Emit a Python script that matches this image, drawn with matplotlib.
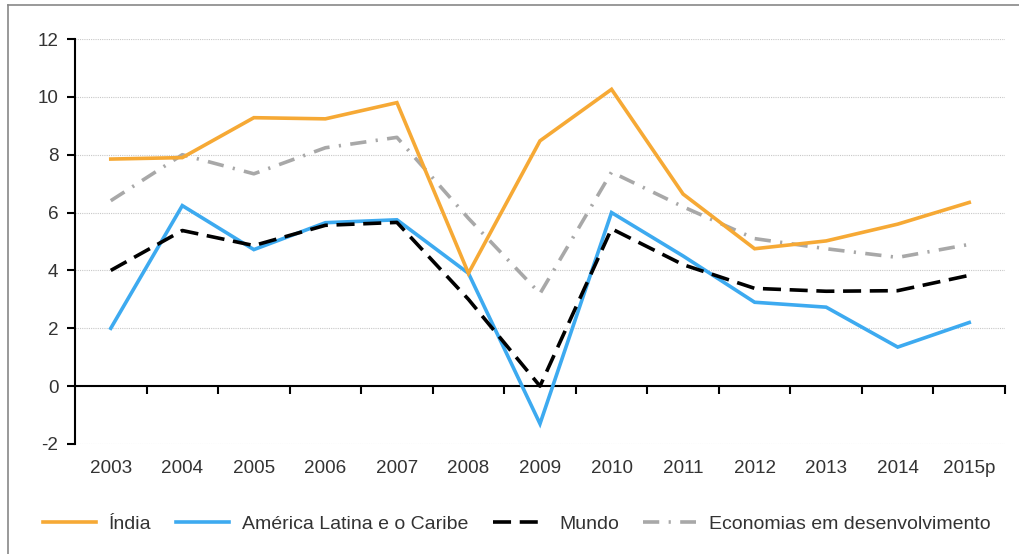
import matplotlib as mpl
from matplotlib import pyplot as plt
from matplotlib.lines import Line2D

mpl.rcParams['font.family'] = ['Liberation Sans', 'DejaVu Sans']
mpl.rcParams['axes.unicode_minus'] = False

## data
anos = ['2003', '2004', '2005', '2006', '2007', '2008', '2009',
        '2010', '2011', '2012', '2013', '2014', '2015p']
india = [7.85, 7.9, 9.28, 9.24, 9.8, 3.9, 8.48, 10.26, 6.64, 4.75, 5.02, 5.6, 6.35]
america_latina = [2.0, 6.24, 4.72, 5.65, 5.75, 3.9, -1.3, 6.0, 4.5, 2.9, 2.73, 1.35, 2.2]
mundo = [4.0, 5.38, 4.86, 5.56, 5.66, 3.0, 0.0, 5.44, 4.2, 3.38, 3.28, 3.3, 3.83]
economias = [6.41, 8.0, 7.34, 8.24, 8.6, 5.8, 3.2, 7.4, 6.2, 5.1, 4.75, 4.45, 4.9]

nomes = ['Índia', 'América Latina e o Caribe', 'Mundo',
         'Economias em desenvolvimento']

LW = 2.6
FS = 13.6
cor_texto = '#333333'
estilo_mundo = dict(color='black', lw=LW, dashes=(5, 2.4))
estilo_econ = dict(color='#A8A8A8', lw=LW, dashes=(4.5, 2.6, 0.6, 2.6))

fig = plt.figure(figsize=(10.2, 5.54), dpi=100)
ax = fig.add_axes([75/1020, 1 - 444/554, 930/1020, 405/554])

x = list(range(len(anos)))
ax.plot(x, india, color='#F6A935', lw=LW, solid_joinstyle='miter', zorder=4)
ax.plot(x, america_latina, color='#3DAAF0', lw=LW, solid_joinstyle='miter', zorder=3)
ax.plot(x, mundo, zorder=5, **estilo_mundo)
ax.plot(x, economias, zorder=2, **estilo_econ)

ax.set_xlim(-0.5, len(anos) - 0.5)
ax.set_ylim(-2, 12)
ax.set_yticks(range(-2, 13, 2))
ax.yaxis.grid(True, linestyle=(0, (1, 1)), color='#C8C8C8', lw=0.8)
ax.set_axisbelow(True)

# x axis sits at zero, ticks between categories
ax.spines['top'].set_visible(False)
ax.spines['right'].set_visible(False)
ax.spines['bottom'].set_position(('data', 0))
ax.spines['bottom'].set_linewidth(1.5)
ax.spines['left'].set_linewidth(1.5)
ax.set_xticks([i + 0.5 for i in x[:-1]] + [len(anos) - 0.5])
ax.set_xticklabels([])
ax.tick_params(axis='x', direction='out', length=6, width=1.5)
ax.tick_params(axis='y', direction='out', length=6, width=1.5, labelsize=FS,
               colors='black', labelcolor=cor_texto, pad=6)
for i, a in enumerate(anos):
    ax.text(i, -2.85, a, ha='center', va='center', fontsize=FS, color=cor_texto)

# legend
handles = [
    Line2D([], [], color='#F6A935', lw=LW),
    Line2D([], [], color='#3DAAF0', lw=LW),
    Line2D([], [], **estilo_mundo),
    Line2D([], [], **estilo_econ),
]
fig.legend(handles, nomes, loc='center', bbox_to_anchor=(517/1020, 1 - 524/554),
           ncol=4, frameon=False, fontsize=14, handlelength=2.7,
           columnspacing=1.25, handletextpad=0.7, labelcolor=cor_texto)

# partial frame round the chart
fig.add_artist(Line2D([8/1020, 8/1020], [0, 1 - 5/554], color='#888888', lw=1.2))
fig.add_artist(Line2D([8/1020, 1], [1 - 5/554, 1 - 5/554], color='#888888', lw=1.2))

fig.savefig('out.png', dpi=100)
